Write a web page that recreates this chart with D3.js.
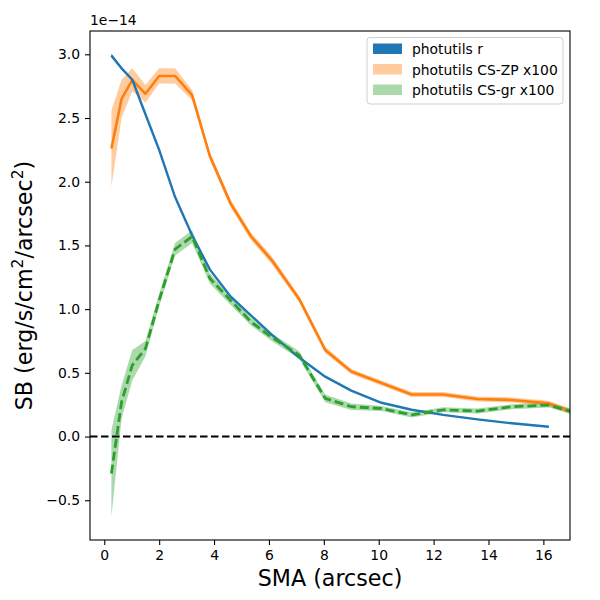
<!DOCTYPE html>
<html><head><meta charset="utf-8">
<script src="https://cdn.jsdelivr.net/npm/d3@7"></script>
<style>body{margin:0;background:#fff}svg{display:block;font-family:"DejaVu Sans",sans-serif}</style>
</head><body><svg id="c" width="600" height="600"></svg>
<script>
// SMA grid (arcsec)
const sma = [0.26,0.63,1.02,1.5,2.0,2.58,3.2,3.85,4.6,5.35,6.1,7.1,8.05,9.0,10.1,11.2,12.35,13.6,14.85,16.2,17.6];
// photutils r (1e-14), 20 points
const rVal = [2.99,2.89,2.80,2.53,2.25,1.88,1.58,1.31,1.10,0.95,0.80,0.62,0.47,0.36,0.265,0.21,0.17,0.135,0.104,0.077];
const rErr = [0.015,0.01,0.01,0.008,0.008,0.006,0.006,0.005,0.005,0.004,0.004,0.004,0.003,0.003,0.003,0.003,0.003,0.003,0.003,0.003];
// photutils CS-ZP x100
const zpVal = [2.26,2.65,2.80,2.69,2.83,2.83,2.68,2.20,1.83,1.57,1.385,1.08,0.68,0.51,0.42,0.33,0.33,0.295,0.287,0.26,0.15];
const zpErr = [0.30,0.15,0.09,0.07,0.06,0.06,0.04,0.03,0.03,0.03,0.03,0.025,0.025,0.02,0.02,0.02,0.02,0.02,0.02,0.02,0.02];
// photutils CS-gr x100
const grVal = [-0.29,0.27,0.56,0.69,1.07,1.47,1.57,1.24,1.07,0.90,0.78,0.64,0.30,0.234,0.22,0.17,0.21,0.20,0.234,0.247,0.16];
const grErr = [0.34,0.13,0.12,0.06,0.05,0.05,0.05,0.04,0.035,0.03,0.03,0.03,0.03,0.025,0.02,0.02,0.02,0.02,0.02,0.02,0.02];
const xTicks = [0,2,4,6,8,10,12,14,16];
const yTicks = [-0.5,0.0,0.5,1.0,1.5,2.0,2.5,3.0];
const legendLabels = ["photutils r","photutils CS-ZP x100","photutils CS-gr x100"];

const L=90,R=570,T=31,B=540;
const svg=d3.select("#c");
const x=d3.scaleLinear().domain([-0.52,16.97]).range([L,R]);
const y=d3.scaleLinear().domain([-0.812,3.183]).range([B,T]);

svg.append("defs").append("clipPath").attr("id","clip").append("rect")
  .attr("x",L).attr("y",T).attr("width",R-L).attr("height",B-T);
const g=svg.append("g").attr("clip-path","url(#clip)");

function rows(vals,errs){return vals.map((v,i)=>({x:sma[i],v:v,e:errs[i]}));}
const area=d3.area().x(d=>x(d.x)).y0(d=>y(d.v-d.e)).y1(d=>y(d.v+d.e));
const line=d3.line().x(d=>x(d.x)).y(d=>y(d.v));

const rD=rows(rVal,rErr), zD=rows(zpVal,zpErr), gD=rows(grVal,grErr);
g.append("path").attr("d",area(zD)).attr("fill","#ff7f0e").attr("fill-opacity",0.4);
g.append("path").attr("d",area(rD)).attr("fill","#1f77b4");
g.append("path").attr("d",area(gD)).attr("fill","#2ca02c").attr("fill-opacity",0.4);

g.append("path").attr("d",line(zD)).attr("fill","none").attr("stroke","#ff7f0e").attr("stroke-width",2.6).attr("stroke-linejoin","round");
g.append("path").attr("d",line(rD)).attr("fill","none").attr("stroke","#1f77b4").attr("stroke-width",2.4).attr("stroke-linejoin","round");
g.append("path").attr("d",line(gD)).attr("fill","none").attr("stroke","#2ca02c").attr("stroke-width",2.8).attr("stroke-dasharray","9,4");

// zero line
g.append("line").attr("x1",L).attr("x2",R).attr("y1",y(0)).attr("y2",y(0))
  .attr("stroke","#000").attr("stroke-width",2).attr("stroke-dasharray","7.5,3.5");

// axes
const xa=svg.append("g").attr("transform",`translate(0,${B})`)
  .call(d3.axisBottom(x).tickValues(xTicks).tickSize(5).tickPadding(5).tickFormat(d3.format("d")));
const ya=svg.append("g").attr("transform",`translate(${L},0)`)
  .call(d3.axisLeft(y).tickValues(yTicks).tickSize(5).tickPadding(5).tickFormat(d=>d3.format(".1f")(d).replace("-","\u2212")));
[xa,ya].forEach(a=>{a.select(".domain").remove();a.selectAll("text").attr("font-size",13.9).attr("fill","#000").attr("font-family","DejaVu Sans");a.selectAll("line").attr("stroke","#000").attr("stroke-width",1.1);});

svg.append("rect").attr("x",L).attr("y",T).attr("width",R-L).attr("height",B-T)
  .attr("fill","none").attr("stroke","#000").attr("stroke-width",1.1);

svg.append("text").attr("x",L).attr("y",T-6).attr("font-size",13.9).text("1e\u221214");

svg.append("text").attr("x",(L+R)/2).attr("y",586).attr("text-anchor","middle").attr("font-size",22.2).text("SMA (arcsec)");
const yl=svg.append("text").attr("transform",`translate(32,${(T+B)/2}) rotate(-90)`).attr("text-anchor","middle").attr("font-size",22.2);
yl.append("tspan").text("SB (erg/s/cm");
yl.append("tspan").attr("dy",-9).attr("font-size",15.5).text("2");
yl.append("tspan").attr("dy",9).text("/arcsec");
yl.append("tspan").attr("dy",-9).attr("font-size",15.5).text("2");
yl.append("tspan").attr("dy",9).text(")");

// legend
const leg=svg.append("g");
leg.append("rect").attr("x",367).attr("y",37.5).attr("width",196).attr("height",66.5).attr("rx",3)
  .attr("fill","#fff").attr("fill-opacity",0.8).attr("stroke","#d0d0d0").attr("stroke-width",1);
const legCol=["#1f77b4","#ff7f0e","#2ca02c"], legOp=[1,0.4,0.4];
legendLabels.forEach((t,i)=>{
  const yy=43.5+i*20.5;
  leg.append("rect").attr("x",373).attr("y",yy).attr("width",29).attr("height",10.5).attr("fill",legCol[i]).attr("fill-opacity",legOp[i]);
  leg.append("text").attr("x",412).attr("y",yy+10.5).attr("font-size",13.9).text(t);
});
</script></body></html>
